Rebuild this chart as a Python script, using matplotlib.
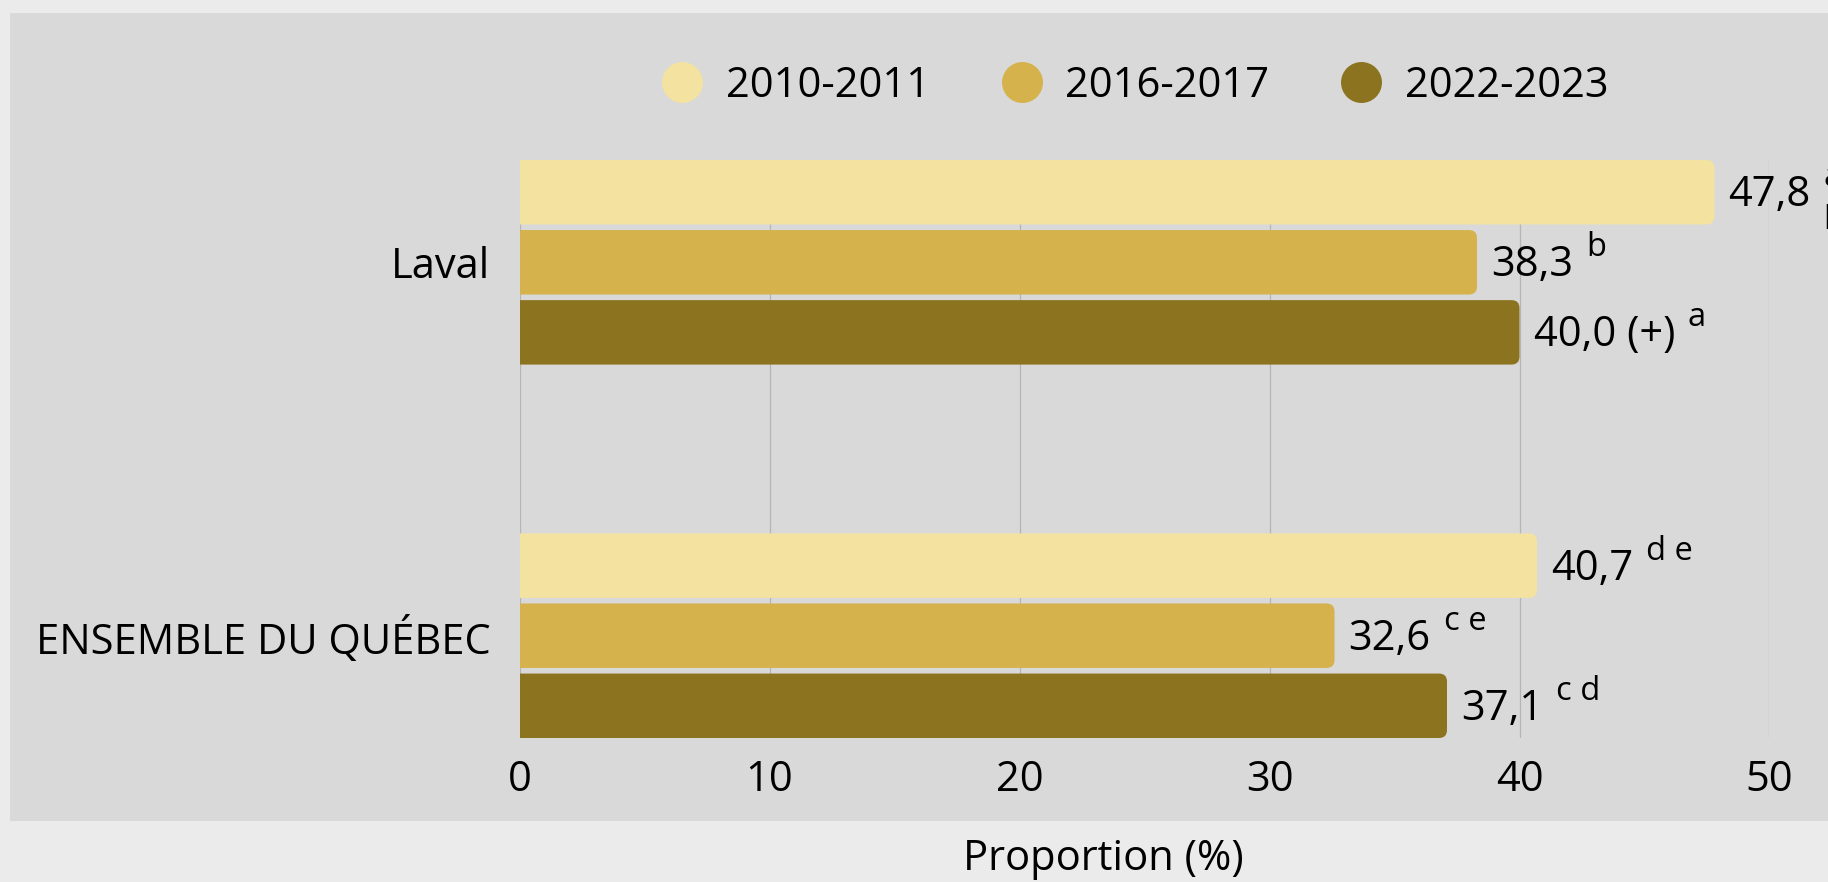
import matplotlib
matplotlib.use('Agg')
import matplotlib.pyplot as plt
from matplotlib.patches import FancyBboxPatch, Rectangle
from matplotlib.lines import Line2D
from matplotlib.transforms import IdentityTransform

# ---------------- data ----------------
categories = ['Laval', 'ENSEMBLE DU QUÉBEC']
periods = ['2010-2011', '2016-2017', '2022-2023']
v_2010 = [47.8, 40.7]
v_2016 = [38.3, 32.6]
v_2022 = [40.0, 37.1]
flag_2010 = ['', '']
flag_2016 = ['', '']
flag_2022 = [' (+)', '']
note_2010 = ['a b', 'd e']
note_2016 = ['b', 'c e']
note_2022 = ['a', 'c d']
x_ticks = [0, 10, 20, 30, 40, 50]

colors = ['#F3E2A0', '#D5B24C', '#8C7320']

# ---------------- layout ----------------
W, H, DPI = 1828, 882, 100
plt.rcParams['font.family'] = ['Open Sans', 'DejaVu Sans']
FS = 30
FS_SUP = 23.5

fig = plt.figure(figsize=(W / DPI, H / DPI), dpi=DPI)
fig.patch.set_facecolor('#EBEBEB')
fig.add_artist(Rectangle((10 / W, (H - 821) / H), (W - 10) / W, (821 - 13) / H,
                         transform=fig.transFigure, facecolor='#D9D9D9',
                         edgecolor='none', zorder=0))

ax_l, ax_r = 519.5, 1769.5
ax_t, ax_b = 160, 738
ax = fig.add_axes([ax_l / W, (H - ax_b) / H, (ax_r - ax_l) / W, (ax_b - ax_t) / H])
ax.set_facecolor('none')
for s in ax.spines.values():
    s.set_visible(False)

group_centers = [0.0, 5.33]
offsets = [-1.0, 0.0, 1.0]
bar_h = 0.92
ax.set_xlim(0, 50)
ax.set_ylim(group_centers[-1] + 1 + bar_h / 2, group_centers[0] - 1 - bar_h / 2)

ax.set_xticks(x_ticks)
ax.set_xticklabels([str(t) for t in x_ticks])
ax.set_yticks(group_centers)
ax.set_yticklabels(categories)
ax.tick_params(axis='x', length=0, pad=15, labelsize=FS)
ax.tick_params(axis='y', length=0, pad=21, labelsize=FS)
ax.grid(axis='x', color='#B5B5B5', linewidth=0.9)
ax.grid(axis='y', visible=False)
ax.set_axisbelow(True)

# pixel scales for rounding
px_x = (ax_r - ax_l) / 50.0
px_y = (ax_b - ax_t) / (ax.get_ylim()[0] - ax.get_ylim()[1])
r_px = 8
rx = r_px / px_x
ry = r_px / px_y

series = [(v_2010, flag_2010, note_2010), (v_2016, flag_2016, note_2016),
          (v_2022, flag_2022, note_2022)]

bar_items = []
for j, (vals, flags, notes) in enumerate(series):
    ys = [gc + offsets[j] for gc in group_centers]
    bars = ax.barh(ys, vals, height=bar_h, color=colors[j])
    for rect, v, y, fl, nt in zip(bars.patches, vals, ys, flags, notes):
        rect.set_visible(False)
        p = FancyBboxPatch((rect.get_x() - rx, rect.get_y()), rect.get_width() + rx,
                           rect.get_height(),
                           boxstyle=f"round,pad=0,rounding_size={rx}",
                           mutation_aspect=ry / rx, facecolor=colors[j],
                           edgecolor='none', clip_on=True, zorder=2)
        ax.add_patch(p)
        bar_items.append((v, y, fl, nt))

# legend
handles = [Line2D([], [], marker='o', linestyle='none', markersize=29.5,
                  markerfacecolor=c, markeredgewidth=0) for c in colors]
fig.legend(handles, periods, loc='center', bbox_to_anchor=(1135 / W, 1 - 86 / H),
           ncol=3, frameon=False, fontsize=FS, handlelength=1.0,
           handletextpad=0.55, columnspacing=1.7)

fig.text(1103 / W, 1 - 859 / H, 'Proportion (%)', ha='center', va='center', fontsize=FS)

# value labels with superscripts
fig.canvas.draw()
renderer = fig.canvas.get_renderer()
for v, y, fl, nt in bar_items:
    xd, yd = ax.transData.transform((v, y))
    base = yd - 14
    label = f"{v:.1f}".replace('.', ',') + fl
    t = fig.text(xd + 14, base, label, transform=IdentityTransform(),
                 ha='left', va='baseline', fontsize=FS, zorder=5)
    bb = t.get_window_extent(renderer)
    sx = bb.x1 + 13
    s = fig.text(sx, base + 20, nt, transform=IdentityTransform(),
                 ha='left', va='baseline', fontsize=FS_SUP, zorder=5)
    sb = s.get_window_extent(renderer)
    if sb.x1 > W:
        # not enough room: wrap the notes onto successive lines
        s.remove()
        for k, part in enumerate(nt.split()):
            fig.text(sx, base + 20 - k * 43, part, transform=IdentityTransform(),
                     ha='left', va='baseline', fontsize=FS_SUP, zorder=5)

fig.savefig('out.png', dpi=DPI, facecolor=fig.get_facecolor())
